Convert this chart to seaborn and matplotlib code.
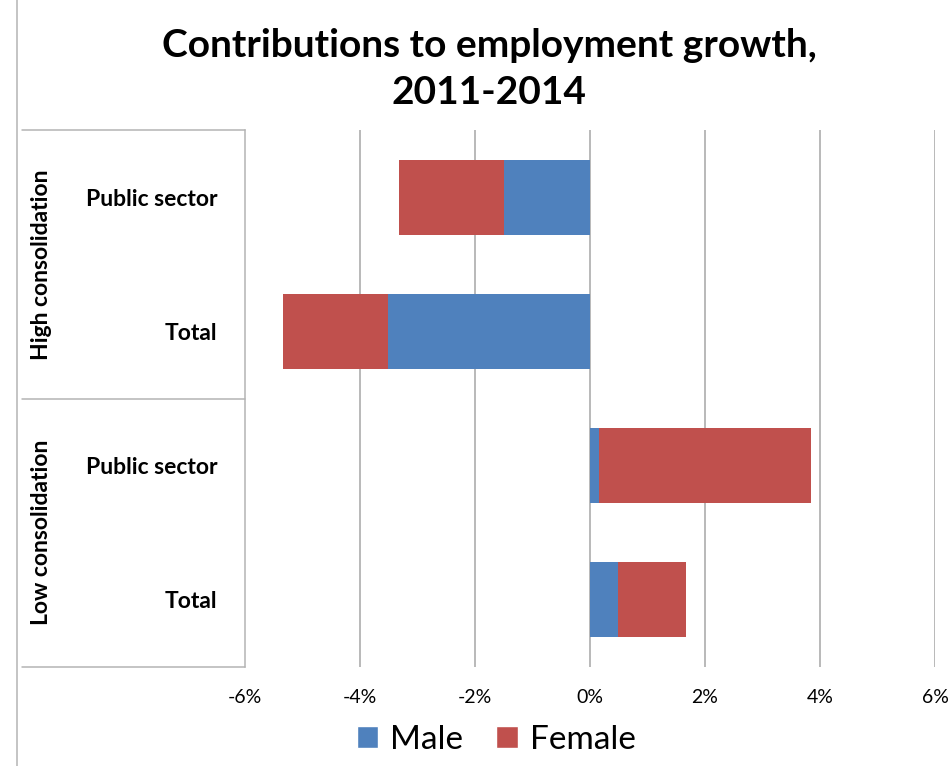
import matplotlib
matplotlib.use("Agg")
import matplotlib.pyplot as plt
from matplotlib.patches import Patch
from matplotlib.lines import Line2D
from matplotlib.transforms import blended_transform_factory
import seaborn as sns
import pandas as pd

# Contributions to employment growth (percentage points), 2011-2014
groups = ["High consolidation", "High consolidation", "Low consolidation", "Low consolidation"]
sectors = ["Public sector", "Total", "Public sector", "Total"]
male = [-1.50, -3.51, 0.15, 0.48]
female = [-1.82, -1.83, 3.70, 1.19]
x_ticks = [-6, -4, -2, 0, 2, 4, 6]
x_tick_labels = ["-6%", "-4%", "-2%", "0%", "2%", "4%", "6%"]

BLUE = "#4F81BD"
RED = "#C0504D"
GRID = "#a6a6a6"
BOX = "#b4b4b4"

sns.set_theme(style="white")
plt.rcParams["font.family"] = ["Lato", "DejaVu Sans"]
plt.rcParams["text.color"] = "black"
plt.rcParams["xtick.color"] = "black"
plt.rcParams["ytick.color"] = "black"

keys = [f"{g}|{s}" for g, s in zip(groups, sectors)]
df = pd.DataFrame({
    "key": keys,
    "male": male,
    "female": female,
})
# Both parts of each bar share a sign, so the stacked bar is the total
# drawn in the female colour with the male part laid over it from zero.
df["total"] = df["male"] + df["female"]

fig = plt.figure(figsize=(9.5, 7.66), dpi=100)
ax_left, ax_right = 245, 935
ax = fig.add_axes([ax_left / 950, 1 - 667 / 766, (ax_right - ax_left) / 950, (667 - 130) / 766])

sns.barplot(data=df, x="total", y="key", order=keys, orient="h", color=RED,
            saturation=1, width=0.56, errorbar=None, linewidth=0, ax=ax)
sns.barplot(data=df, x="male", y="key", order=keys, orient="h", color=BLUE,
            saturation=1, width=0.56, errorbar=None, linewidth=0, ax=ax)

ax.set_xlim(-6, 6)
ax.set_ylim(3.5, -0.5)
ax.set_xlabel("")
ax.set_ylabel("")

ax.set_xticks(x_ticks)
ax.set_xticklabels(x_tick_labels, fontsize=14)
ax.tick_params(axis="x", length=0, pad=16, colors="black")
ax.set_yticks(range(len(keys)))
ax.set_yticklabels(sectors, fontsize=16.5, fontweight="bold")
ax.tick_params(axis="y", length=0, pad=20, colors="black")

for xv in x_ticks[1:]:
    ax.axvline(xv, color=GRID, lw=1.1, zorder=0)

for side in ["top", "right", "bottom"]:
    ax.spines[side].set_visible(False)
ax.spines["left"].set_color(BOX)
ax.spines["left"].set_linewidth(1.1)

# Group boxes on the category axis
tr = blended_transform_factory(fig.transFigure, ax.transData)
x0 = 22 / 950
x1 = ax_left / 950
for yb in [-0.5, 1.5, 3.5]:
    fig.add_artist(Line2D([x0, x1], [yb, yb], transform=tr, color=BOX, lw=1.1))

for label, yc in [("High consolidation", 0.5), ("Low consolidation", 2.5)]:
    fig.text(42 / 950, yc, label, transform=tr, rotation=90, ha="center",
             va="center", fontsize=16.5, fontweight="bold")

# Chart border on the left
fig.add_artist(Line2D([17 / 950, 17 / 950], [0, 1], transform=fig.transFigure,
                      color=BOX, lw=1.1))

fig.text(489 / 950, 1 - 69 / 766, "Contributions to employment growth,\n2011-2014",
         ha="center", va="center", fontsize=28, fontweight="bold",
         linespacing=1.4)

handles = [Patch(facecolor=BLUE, label="Male"), Patch(facecolor=RED, label="Female")]
fig.legend(handles=handles, loc="center", bbox_to_anchor=(496 / 950, 1 - 740 / 766),
           ncol=2, frameon=False, fontsize=24, handlelength=0.65, handleheight=0.65,
           handletextpad=0.35, columnspacing=1.0, borderaxespad=0)

fig.savefig("out.png", dpi=100, facecolor="white")
